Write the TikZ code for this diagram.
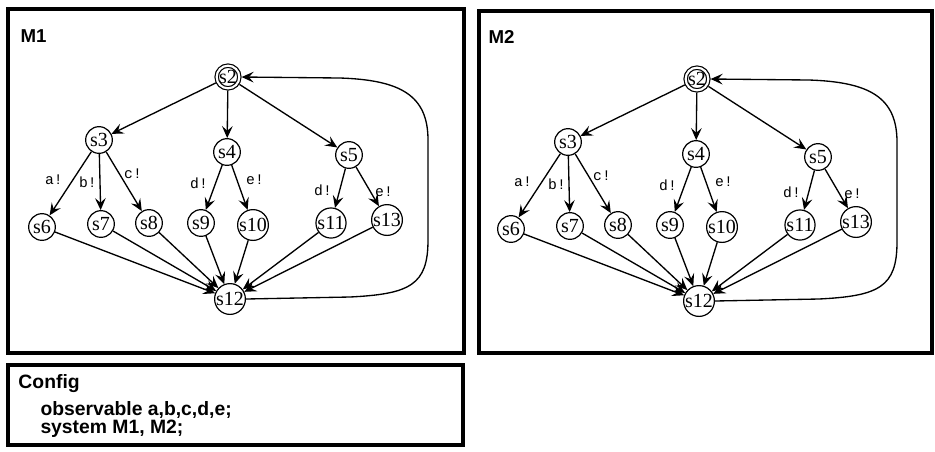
\documentclass[tikz,border=0pt]{standalone}
\usepackage{fontspec}
\setmainfont{Liberation Serif}
\setsansfont{Liberation Sans}
\setmonofont{Liberation Mono}
\usetikzlibrary{arrows.meta}

\tikzset{every picture/.style={line width=0.75pt}}
\tikzset{
  state/.style={circle, draw, line width=0.9pt, inner sep=0pt, minimum size=20pt, font=\fontsize{15}{15}\selectfont},
  initstate/.style={state, double, double distance=1.6pt, minimum size=17pt, outer sep=1.7pt},
  trans/.style={line width=1pt, -{Stealth[length=9pt,width=8pt,inset=3.5pt]}},
  act/.style={inner sep=0pt, font=\ttfamily\fontsize{11}{11}\selectfont},
  frame/.style={draw, line width=3.5pt},
  title/.style={anchor=base west, inner sep=0pt, font=\sffamily\bfseries\fontsize{14}{14}\selectfont},
  cfgtext/.style={title, font=\sffamily\bfseries\fontsize{14.5}{14.5}\selectfont}
}

\begin{document}
\begin{tikzpicture}[x=0.75pt,y=0.75pt,yscale=-1,xscale=1]
\useasboundingbox (0,0) rectangle (935,451);

%Frames
\draw [frame] (8,9) rectangle (464,353);
\draw [frame] (479,11) rectangle (932,353);
\draw [frame] (8,365) rectangle (463,445);

% Text Node
\node [title] (titleM1) at (20,42) {M1};
% Text Node
\node [title] (titleM2) at (488,43) {M2};
% Text Node
\node [cfgtext] (cfgtitle) at (18,388) {Config};
% Text Node
\node [cfgtext] (cfgobs) at (40,415) {observable a,b,c,d,e;};
% Text Node
\node [cfgtext] (cfgsys) at (40,433) {system M1, M2;};

%Machines M1 and M2
\foreach \mach/\dx/\dy in {M1/0/0, M2/469/2}{
\begin{scope}[shift={(\dx,\dy)}, name prefix=\mach-]
%States
\node [initstate] (s2) at (228,77) {s2};
\node [state] (s3) at (99,140) {s3};
\node [state] (s4) at (227,152) {s4};
\node [state] (s5) at (349,155) {s5};
\node [state] (s6) at (42,227) {s6};
\node [state] (s7) at (101,224) {s7};
\node [state] (s8) at (149,223) {s8};
\node [state] (s9) at (201,223) {s9};
\node [state] (s10) at (253,225) {s10};
\node [state] (s11) at (331,223) {s11};
\node [state] (s13) at (387,220) {s13};
\node [state] (s12) at (230,299) {s12};

%Transitions
\draw [trans] (s2) -- (s3);
\draw [trans] (s2) -- (s4);
\draw [trans] (s2) -- (s5);
\draw [trans] (s3) -- (s6);
\draw [trans] (s3) -- (s7);
\draw [trans] (s3) -- (s8);
\draw [trans] (s4) -- (s9);
\draw [trans] (s4) -- (s10);
\draw [trans] (s5) -- (s11);
\draw [trans] (s5) -- (s13);
\draw [trans] (s6) -- (s12);
\draw [trans] (s7) -- (s12);
\draw [trans] (s8) -- (s12);
\draw [trans] (s9) -- (s12);
\draw [trans] (s10) -- (s12);
\draw [trans] (s11) -- (s12);
\draw [trans] (s13) -- (s12);
%Back edge
\draw [trans] (s12.east) -- (350,297) .. controls (410,294) and (428,285) .. (428,240) -- (428,140) .. controls (428,95) and (400,80) .. (340,78) -- (s2.east);

%Actions
\node [act] (la) at (54,180) {a!};
\node [act] (lb) at (88,182) {b!};
\node [act] (lc) at (133,174) {c!};
\node [act] (ld1) at (199,183) {d!};
\node [act] (le1) at (255,180) {e!};
\node [act] (ld2) at (323,190) {d!};
\node [act] (le2) at (384,192) {e!};
\end{scope}
}

\end{tikzpicture}
\end{document}
